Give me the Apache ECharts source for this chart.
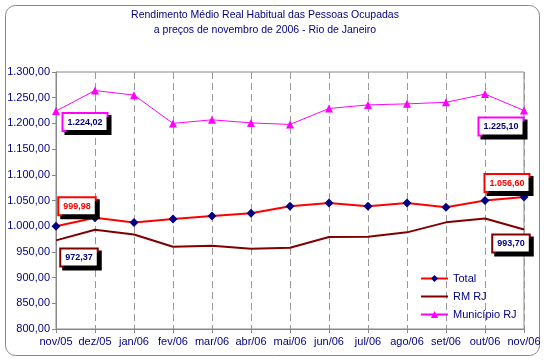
<!DOCTYPE html>
<html>
<head>
<meta charset="utf-8">
<script src="https://cdn.jsdelivr.net/npm/echarts@6/dist/echarts.min.js"></script>
<style>html,body{margin:0;padding:0;background:#fff}#c{width:546px;height:362px}</style>
</head>
<body>
<div id="c"></div>
<script>
const categories = ['nov/05','dez/05','jan/06','fev/06','mar/06','abr/06','mai/06','jun/06','jul/06','ago/06','set/06','out/06','nov/06'];
const total = [999.98, 1016.6, 1007, 1014, 1020, 1025, 1039, 1045, 1039, 1045, 1037, 1050, 1056.60];
const rmrj = [972.37, 993, 984, 960, 962, 956, 958, 979, 979.5, 988, 1007.5, 1015, 993.70];
const municipio = [1224.02, 1264, 1255, 1200, 1207, 1201, 1198, 1229, 1236, 1238, 1241, 1257, 1225.10];
const yTicks = {min: 800, max: 1300, interval: 50};

function br(v) {
  const s = v.toFixed(2);
  let [i, d] = s.split('.');
  i = i.replace(/\B(?=(\d{3})+(?!\d))/g, '.');
  return i + ',' + d;
}

function ann(series, idx, border, textColor, offset) {
  return {
    coord: [categories[idx], series[idx]],
    value: series[idx],
    symbol: 'circle',
    symbolSize: 1,
    itemStyle: {color: 'rgba(0,0,0,0)'},
    label: {
      show: true,
      position: 'inside',
      offset: offset,
      formatter: () => br(series[idx]),
      fontFamily: 'Liberation Sans',
      fontWeight: 'bold',
      fontSize: 9,
      color: textColor,
      backgroundColor: '#fff',
      borderColor: border,
      borderWidth: 2,
      padding: [4, 4, 3, 4],
      shadowColor: '#000',
      shadowBlur: 0,
      shadowOffsetX: 3,
      shadowOffsetY: 3
    }
  };
}

const chart = echarts.init(document.getElementById('c'), null, {renderer: 'canvas'});
const navy = '#000080';
chart.setOption({
  animation: false,
  textStyle: {fontFamily: 'Liberation Sans'},
  graphic: [{
    type: 'rect',
    shape: {x: 5.5, y: 5.5, width: 534, height: 350, r: 10},
    style: {fill: 'none', stroke: '#888', lineWidth: 1},
    silent: true,
    z: -1
  }, {
    type: 'text',
    x: 265,
    y: 8,
    style: {
      text: 'Rendimento Médio Real Habitual das Pessoas Ocupadas\na preços de novembro de 2006 - Rio de Janeiro',
      align: 'center',
      verticalAlign: 'top',
      fill: navy,
      font: '10.5px "Liberation Sans"',
      lineHeight: 15
    },
    silent: true
  }],
  legend: {
    orient: 'vertical',
    left: 415,
    top: 268,
    itemWidth: 27,
    itemHeight: 9,
    itemGap: 7,
    textStyle: {color: navy, fontSize: 11, fontFamily: 'Liberation Sans'},
    data: ['Total', {name: 'RM RJ', itemStyle: {opacity: 0}}, 'Município RJ']
  },
  grid: {left: 56, right: 22, top: 72, bottom: 33, show: true, borderColor: '#888', borderWidth: 1, backgroundColor: 'transparent'},
  xAxis: {
    type: 'category',
    data: categories,
    boundaryGap: false,
    axisLine: {lineStyle: {color: '#888', width: 1}},
    axisTick: {show: true, length: 4, inside: false, lineStyle: {color: '#888'}},
    axisLabel: {color: navy, fontSize: 11, margin: 7, interval: 0, fontFamily: 'Liberation Sans'},
    splitLine: {show: true, lineStyle: {color: '#999', type: [7, 4], width: 1}}
  },
  yAxis: {
    type: 'value',
    min: yTicks.min,
    max: yTicks.max,
    interval: yTicks.interval,
    axisLine: {show: true, lineStyle: {color: '#888'}},
    axisTick: {show: true, length: 4, inside: false, lineStyle: {color: '#888'}},
    axisLabel: {color: navy, fontSize: 11, margin: 6, formatter: v => br(v), fontFamily: 'Liberation Sans'},
    splitLine: {show: false}
  },
  series: [
    {
      name: 'Total',
      type: 'line',
      data: total,
      symbol: 'diamond',
      symbolSize: 9,
      itemStyle: {color: navy},
      lineStyle: {color: '#ff0000', width: 2},
      z: 3,
      markPoint: {data: [ann(total, 0, '#ff0000', '#ff0000', [21, -20]), ann(total, 12, '#ff0000', '#ff0000', [-17, -14])]}
    },
    {
      name: 'RM RJ',
      type: 'line',
      data: rmrj,
      symbol: 'none',
      itemStyle: {color: '#800000'},
      lineStyle: {color: '#800000', width: 2},
      z: 2,
      markPoint: {data: [ann(rmrj, 0, '#800000', navy, [23, 17]), ann(rmrj, 12, '#800000', navy, [-13, 14])]}
    },
    {
      name: 'Município RJ',
      type: 'line',
      data: municipio,
      symbol: 'triangle',
      symbolSize: 8,
      itemStyle: {color: '#ff00ff'},
      lineStyle: {color: '#ff00ff', width: 1},
      z: 2,
      markPoint: {data: [ann(municipio, 0, '#ff00ff', navy, [29, 11]), ann(municipio, 12, '#ff00ff', navy, [-23, 16])]}
    }
  ]
});
</script>
</body>
</html>
